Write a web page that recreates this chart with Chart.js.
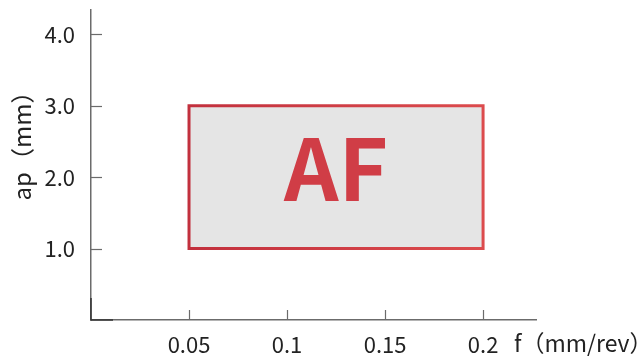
<!DOCTYPE html>
<html><head><meta charset="utf-8">
<script src="https://cdn.jsdelivr.net/npm/chart.js@4"></script>
<style>html,body{margin:0;padding:0;background:#fff}#wrap{width:641px;height:356px}</style>
</head><body><div id="wrap"><canvas id="c"></canvas></div>
<script>
const xTicks = [0.05, 0.1, 0.15, 0.2];
const xTickLabels = ['0.05', '0.1', '0.15', '0.2'];
const yTicks = [1, 2, 3, 4];
const yTickLabels = ['1.0', '2.0', '3.0', '4.0'];
const regionX = [0.05, 0.2];
const regionY = [1, 3];
const regionLabel = 'AF';
const xAxisTitle = 'f（mm/rev）';
const yAxisTitle = 'ap（mm）';
const xRange = [0, 0.227];
const yRange = [0, 4.34];

const FONT = '"Noto Sans CJK JP", "Noto Sans", sans-serif';
const AXIS = '#6b6b6b';
const TEXT = '#222222';

// corners of the region, with the first edge repeated so every corner gets a clean join
const regionPoints = [
  {x: regionX[0], y: regionY[0]},
  {x: regionX[0], y: regionY[1]},
  {x: regionX[1], y: regionY[1]},
  {x: regionX[1], y: regionY[0]},
  {x: regionX[0], y: regionY[0]},
  {x: regionX[0], y: regionY[1]}
];

const decor = {
  id: 'decor',
  afterDatasetsDraw(chart) {
    const ctx = chart.ctx;
    const xs = chart.scales.x, ys = chart.scales.y;
    const a = chart.chartArea;
    ctx.save();
    ctx.strokeStyle = AXIS;
    ctx.lineWidth = 1.2;
    yTicks.forEach(v => {
      const py = Math.round(ys.getPixelForValue(v)) + 0.5;
      ctx.beginPath(); ctx.moveTo(a.left, py); ctx.lineTo(a.left + 11, py); ctx.stroke();
    });
    xTicks.forEach(v => {
      const px = Math.round(xs.getPixelForValue(v)) + 0.5;
      ctx.beginPath(); ctx.moveTo(px, a.bottom); ctx.lineTo(px, a.bottom - 10); ctx.stroke();
    });
    ctx.strokeStyle = '#333';
    ctx.lineWidth = 1.5;
    ctx.beginPath(); ctx.moveTo(a.left, a.bottom); ctx.lineTo(a.left, a.bottom - 22); ctx.stroke();
    ctx.beginPath(); ctx.moveTo(a.left, a.bottom); ctx.lineTo(a.left + 22, a.bottom); ctx.stroke();
    const cx = (xs.getPixelForValue(regionX[0]) + xs.getPixelForValue(regionX[1])) / 2;
    const cy = (ys.getPixelForValue(regionY[0]) + ys.getPixelForValue(regionY[1])) / 2;
    ctx.fillStyle = '#d03d46';
    ctx.font = 'bold 85px ' + FONT;
    ctx.textAlign = 'center';
    ctx.textBaseline = 'alphabetic';
    ctx.fillText(regionLabel, cx, cy + 24);
    ctx.fillStyle = TEXT;
    ctx.font = '23px ' + FONT;
    ctx.textAlign = 'left';
    ctx.textBaseline = 'middle';
    ctx.fillText(xAxisTitle, a.right - 22, 343);
    ctx.translate(22, 140);
    ctx.rotate(-Math.PI / 2);
    ctx.font = '24px ' + FONT;
    ctx.textAlign = 'center';
    ctx.fillText(yAxisTitle, 0, 0);
    ctx.restore();
  }
};

new Chart(document.getElementById('c'), {
  type: 'scatter',
  data: {
    datasets: [{
      data: regionPoints,
      showLine: true,
      fill: 'shape',
      backgroundColor: '#e5e5e5',
      borderColor: (c) => {
        const ch = c.chart;
        if (!ch.chartArea || !ch.scales.x) return '#c83a42';
        const x0 = ch.scales.x.getPixelForValue(regionX[0]);
        const x1 = ch.scales.x.getPixelForValue(regionX[1]);
        const g = ch.ctx.createLinearGradient(x0, 0, x1, 0);
        g.addColorStop(0, '#c2303d');
        g.addColorStop(1, '#dc4b4d');
        return g;
      },
      borderWidth: 3,
      borderJoinStyle: 'miter',
      pointRadius: 0,
      pointHoverRadius: 0,
      tension: 0
    }]
  },
  options: {
    responsive: true,
    maintainAspectRatio: false,
    animation: false,
    events: [],
    layout: {padding: {left: 0, right: 105, top: 10, bottom: 0}},
    plugins: {legend: {display: false}, tooltip: {enabled: false}},
    scales: {
      x: {
        type: 'linear', min: xRange[0], max: xRange[1],
        afterBuildTicks: s => { s.ticks = xTicks.map(v => ({value: v})); },
        afterFit: s => { s.height = 36; s.paddingLeft = 0; s.paddingRight = 0; },
        ticks: {
          callback: (v, i) => xTickLabels[i],
          font: {family: FONT, size: 22},
          color: TEXT, padding: 3, maxRotation: 0, autoSkip: false
        },
        grid: {display: false},
        border: {display: true, color: AXIS, width: 1.5}
      },
      y: {
        type: 'linear', min: yRange[0], max: yRange[1],
        afterBuildTicks: s => { s.ticks = yTicks.map(v => ({value: v})); },
        afterFit: s => { s.width = 91; s.paddingTop = 0; s.paddingBottom = 0; },
        ticks: {
          callback: (v, i) => yTickLabels[i],
          font: {family: FONT, size: 22},
          color: TEXT, padding: 8, autoSkip: false
        },
        grid: {display: false},
        border: {display: true, color: AXIS, width: 1.5}
      }
    }
  },
  plugins: [decor]
});
</script>
</body></html>
